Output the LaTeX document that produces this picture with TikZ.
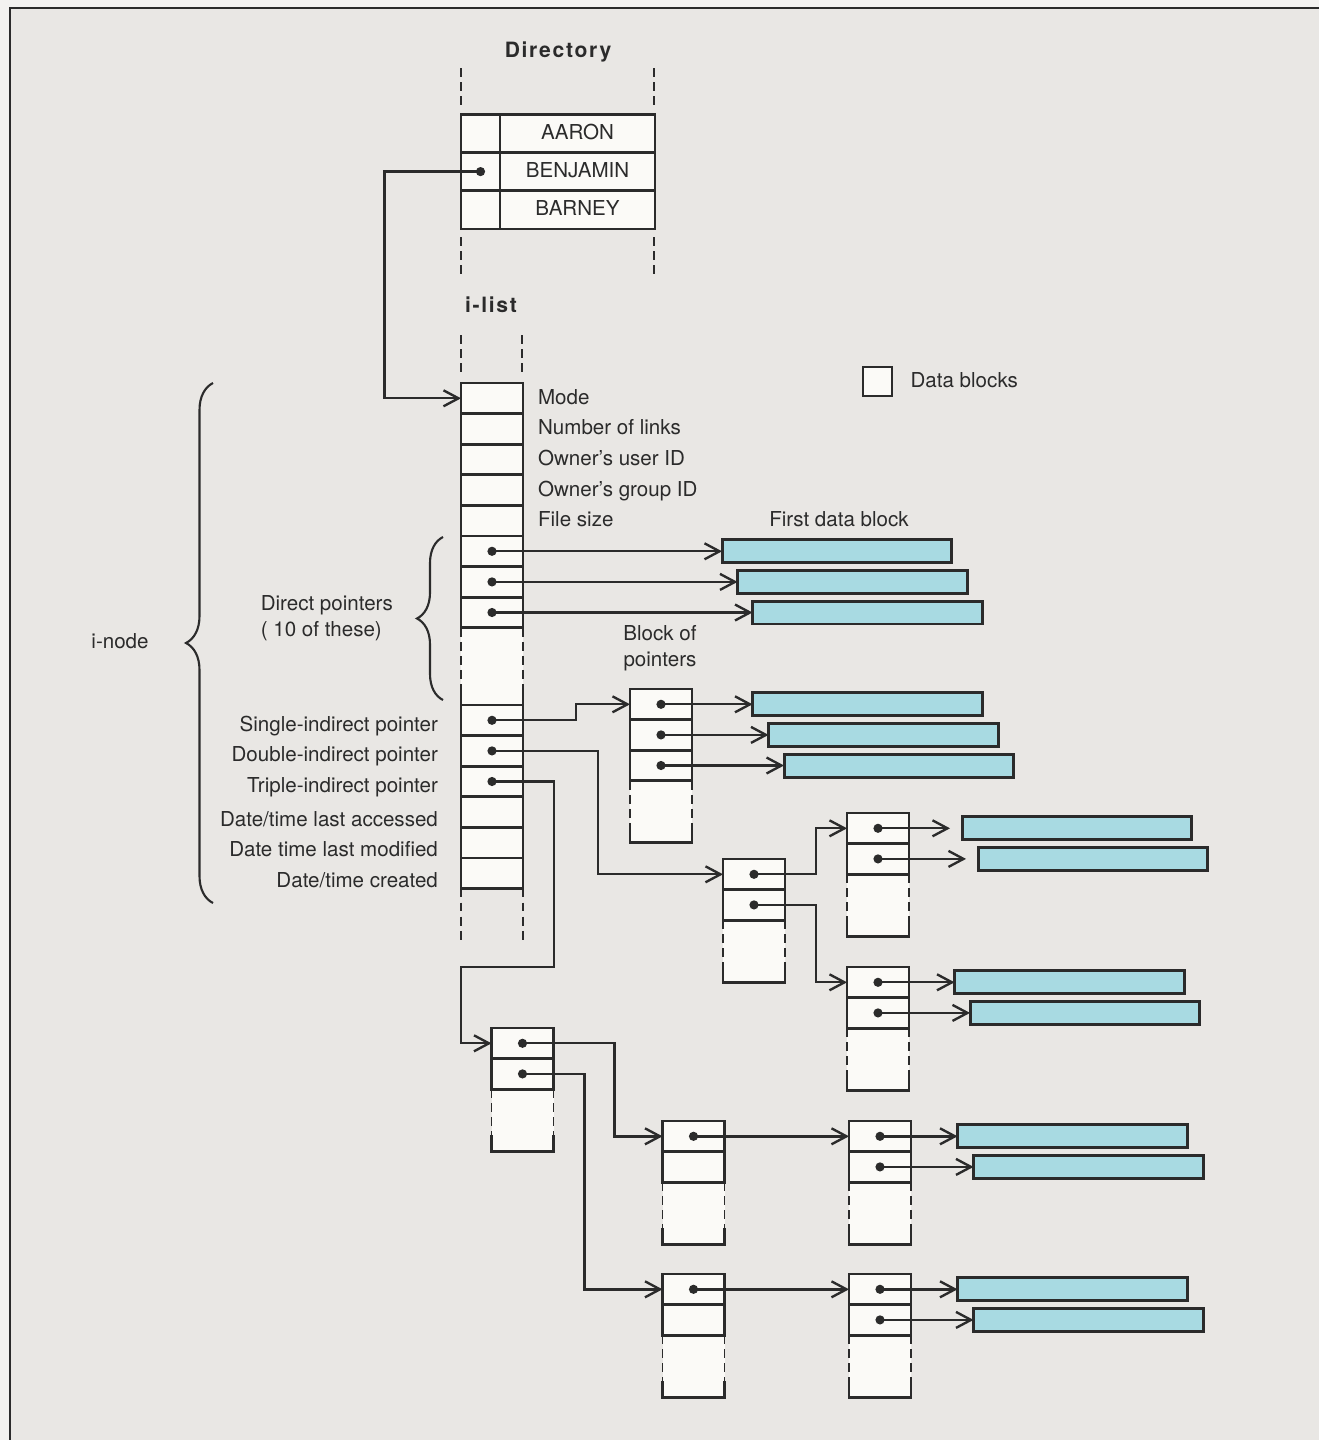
\documentclass[tikz,border=0pt]{standalone}
\usepackage{fontspec}
\setmainfont{TeX Gyre Heros}
\newfontfamily\headfont[LetterSpace=8]{TeX Gyre Heros}
\usetikzlibrary{arrows.meta, positioning, calc, decorations.pathreplacing}
\definecolor{ink}{HTML}{2B2B2B}
\definecolor{paper}{HTML}{E9E7E4}
\definecolor{edge}{HTML}{F3F2F0}
\definecolor{cellwhite}{HTML}{FBFAF7}
\definecolor{blockcyan}{HTML}{A8DAE2}
\tikzset{
  cell/.style={draw=ink, fill=cellwhite, line width=1.6pt, minimum width=1.24cm, minimum height=0.612cm, inner sep=0pt, outer sep=0pt},
  datablk/.style={draw=ink, fill=blockcyan, line width=1.7pt, minimum width=4.6cm, minimum height=0.46cm, inner sep=0pt, outer sep=0pt},
  ptr/.style={arrows={Circle[length=1.8mm]-Straight Barb[length=3mm, width=3.2mm]}, shorten <=-0.9mm, draw=ink, line width=1.35pt},
  gap/.style={shorten >=2.4mm},
  tailline/.style={draw=ink, line width=1pt, dash pattern=on 5pt off 3pt},
  cellline/.style={draw=ink, line width=1.6pt},
  curly/.style={draw=ink, line width=1.2pt, decorate, decoration={brace, amplitude=#1}},
  lbl/.style={font=\fontsize{11.7}{14.8}\selectfont, text=ink, inner sep=1pt, text height=1.6ex, text depth=0.3ex},
  note/.style={font=\fontsize{11.7}{14.8}\selectfont, text=ink, inner sep=1pt, align=center},
  head/.style={font=\headfont\bfseries\fontsize{12}{14}\selectfont, text=ink},
}
% block of pointers: name, centre x, top y, cells
\newcommand{\ptrblock}[4]{%
  \fill[cellwhite] (#2-31, #3+30.6*#4) rectangle ++(62,62);
  \foreach \row in {1,...,#4}
    \node[cell] (#1\row) at (#2, #3+30.6*\row-15.3) {};
  \draw[tailline] (#2-31, #3+30.6*#4) -- ++(0,46) (#2+31, #3+30.6*#4) -- ++(0,46);
  \draw[cellline] (#2-31, #3+30.6*#4+46) -- ++(0,16) -- ++(62,0) -- ++(0,-16);
}

\begin{document}
\begin{tikzpicture}[x=0.02cm, y=-0.02cm]
  \useasboundingbox (0,0) rectangle (1319,1440);
  \fill[edge] (0,0) rectangle (1319,1440);
  \fill[paper] (10,8) rectangle (1319,1440);
  \draw[ink, line width=0.6pt] (10,1440) -- (10,8) -- (1319,8);

  % directory
  \node[head] (dirtitle) at (558,52) {Directory};
  \draw[tailline] (461,68) -- (461,107) (654,68) -- (654,107);
  \draw[tailline] (461,237) -- (461,275) (654,237) -- (654,275);
  \foreach \row/\nm in {1/AARON, 2/BENJAMIN, 3/BARNEY} {
    \node[cell, minimum width=0.78cm, minimum height=0.766cm] (dl\row) at (480.5, 95+38.3*\row) {};
    \node[cell, minimum width=3.1cm, minimum height=0.766cm, lbl] (dn\row) at (577.5, 95+38.3*\row) {\nm};
  }

  % i-list
  \node[head] (ilisttitle) at (491,305) {i-list};
  \draw[tailline] (461,335) -- (461,377) (522,335) -- (522,377);
  \fill[cellwhite] (461,628) rectangle (523,705);
  \foreach \row in {0,...,7}
    \node[cell] (il\row) at (492, 398.3+30.6*\row) {};
  \foreach \row in {8,...,13}
    \node[cell] (il\row) at (492, {720.3+30.6*(\row-8)}) {};
  \draw[tailline] (il7.south west) -- ++(0,62) (il7.south east) -- ++(0,62);
  \draw[cellline] (il8.north west) -- ++(0,-15) (il8.north east) -- ++(0,-15);
  \draw[tailline] (il13.south west) -- ++(0,56) (il13.south east) -- ++(0,56);
  \draw[ptr] (dl2.center) -- ++(-96,0) |- (il0);

  \foreach \row/\txt in {0/Mode, 1/Number of links, 2/Owner's user ID, 3/Owner's group ID, 4/File size}
    \node[lbl, right=0.26cm of il\row] (lab\row) {\txt};
  \foreach \row/\txt/\dy in {8/{Single-indirect pointer}/0.1, 9/{Double-indirect pointer}/0.1, 10/{Triple-indirect pointer}/0.1, 11/{Date/time last accessed}/0.16, 12/{Date time last modified}/0.16, 13/{Date/time created}/0.16}
    \node[lbl, left=0.42cm of il\row, yshift=-\dy cm] (lab\row) {\txt};

  % braces
  \draw[curly=0.54cm] (213,903) -- (213,383);
  \node[lbl] (inodelab) at (120,643) {i-node};
  \draw[curly=0.52cm] (443,700) -- (443,537);
  \node[note, align=left, anchor=east] (directlab) at (395,618) {Direct pointers\\( 10 of these)};

  % legend
  \node[cell, minimum width=0.58cm, minimum height=0.58cm] (legbox) at (877.5,381.5) {};
  \node[lbl, right=0.33cm of legbox] (legtxt) {Data blocks};

  % direct pointers
  \node[lbl] (firstlab) at (839,521) {First data block};
  \foreach \row/\dx in {5/345, 6/360.5, 7/375.5} {
    \node[datablk] (db\row) at ($(il\row)+(\dx,0)$) {};
    \draw[ptr] (il\row.center) -- (db\row);
  }

  % single indirect
  \ptrblock{pa}{661}{689}{3}
  \node[note] (blocklab) at (660,648) {Block of\\pointers};
  \draw[ptr] (il8.center) -- ++(84,0) |- (pa1);
  \foreach \row/\dx in {1/206.5, 2/222.5, 3/238} {
    \node[datablk] (dpa\row) at ($(pa\row)+(\dx,0)$) {};
    \draw[ptr] (pa\row.center) -- (dpa\row);
  }

  % double indirect
  \ptrblock{pb}{754}{859}{2}
  \ptrblock{pc}{878}{813}{2}
  \ptrblock{pd}{878}{967}{2}
  \draw[ptr] (il9.center) -- ++(106,0) |- (pb1);
  \draw[ptr] (pb1.center) -- ++(62,0) |- (pc1);
  \draw[ptr] (pb2.center) -- ++(62,0) |- (pd1);
  \foreach \row/\dx in {1/199, 2/215} {
    \node[datablk] (dpc\row) at ($(pc\row)+(\dx,0)$) {};
    \draw[ptr, gap] (pc\row.center) -- (dpc\row);
  }
  \foreach \row/\dx in {1/191.5, 2/207} {
    \node[datablk] (dpd\row) at ($(pd\row)+(\dx,0)$) {};
    \draw[ptr] (pd\row.center) -- (dpd\row);
  }

  % triple indirect
  \ptrblock{pe}{522.5}{1028}{2}
  \ptrblock{pf}{693.5}{1121}{2}
  \ptrblock{pg}{693.5}{1274}{2}
  \ptrblock{ph}{880}{1121}{2}
  \ptrblock{pi}{880}{1274}{2}
  \coordinate (tjog) at (461,967);
  \draw[ptr] (il10.center) -- ++(62,0) |- (tjog) |- (pe1);
  \draw[ptr] (pe1.center) -- ++(92,0) |- (pf1);
  \draw[ptr] (pe2.center) -- ++(62,0) |- (pg1);
  \draw[ptr] (pf1.center) -- (ph1);
  \draw[ptr] (pg1.center) -- (pi1);
  \foreach \row/\dx in {1/192.5, 2/208.5} {
    \node[datablk] (dph\row) at ($(ph\row)+(\dx,0)$) {};
    \draw[ptr] (ph\row.center) -- (dph\row);
    \node[datablk] (dpi\row) at ($(pi\row)+(\dx,0)$) {};
    \draw[ptr] (pi\row.center) -- (dpi\row);
  }
\end{tikzpicture}
\end{document}
